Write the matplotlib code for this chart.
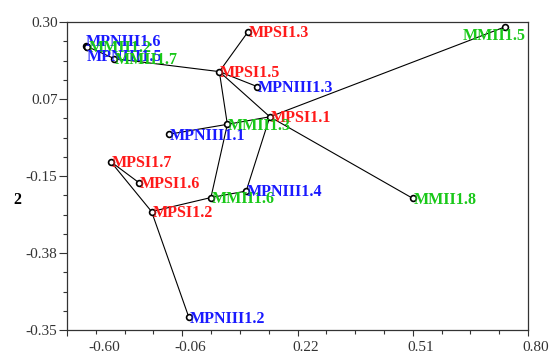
import numpy as np
import matplotlib
matplotlib.use("Agg")
import matplotlib.pyplot as plt
from matplotlib.transforms import ScaledTranslation

# ---------------------------------------------------------------------------
# Datos
# ---------------------------------------------------------------------------
nombres = [
    "MPNIII1.6", "MMII1.2", "MPNIII1.5", "MMII1.7", "MPSI1.3", "MPSI1.5",
    "MPNIII1.3", "MPSI1.1", "MMII1.3", "MPNIII1.1", "MMII1.5", "MMII1.8",
    "MPSI1.7", "MPSI1.6", "MPSI1.2", "MMII1.6", "MPNIII1.4", "MPNIII1.2",
]
dim1 = [-0.303, -0.300, -0.301, -0.232, 0.102, 0.030,
        0.125, 0.156, 0.050, -0.096, 0.743, 0.512,
        -0.241, -0.170, -0.139, 0.009, 0.097, -0.046]
dim2 = [0.230, 0.228, 0.227, 0.193, 0.272, 0.155,
        0.111, 0.023, 0.001, -0.028, 0.286, -0.215,
        -0.108, -0.170, -0.254, -0.213, -0.194, -0.563]

aristas = [
    ("MPNIII1.6", "MMII1.7"), ("MMII1.7", "MPSI1.5"), ("MPSI1.3", "MPSI1.5"),
    ("MPSI1.5", "MPNIII1.3"), ("MPSI1.5", "MPSI1.1"), ("MPSI1.5", "MMII1.3"),
    ("MPSI1.1", "MMII1.5"), ("MPSI1.1", "MMII1.8"), ("MMII1.3", "MPSI1.1"),
    ("MPNIII1.1", "MMII1.3"), ("MMII1.6", "MMII1.3"), ("MPNIII1.4", "MPSI1.1"),
    ("MMII1.6", "MPNIII1.4"), ("MPSI1.2", "MMII1.6"), ("MPSI1.2", "MPSI1.7"),
    ("MPSI1.7", "MPSI1.6"), ("MPSI1.2", "MPNIII1.2"),
]

xticks_lab = ["-0.60", "-0.06", "0.22", "0.51", "0.80"]
yticks_lab = ["-0.35", "-0.38", "-0.15", "0.07", "0.30"]

# ---------------------------------------------------------------------------
# Estilo
# ---------------------------------------------------------------------------
colores = {"MPNIII": "#1a1aff", "MPSI": "#ff1a1a", "MMII": "#19c819"}
# desplazamientos de etiqueta (pt) para puntos solapados
desplaz = {
    "MPNIII1.6": (0, 3.0, "left"),
    "MMII1.2": (1.5, -1.0, "left"),
    "MPNIII1.5": (0, -7.0, "left"),
    "MMII1.5": (15, -6.5, "right"),
}

plt.rcParams["font.family"] = ["Liberation Serif", "DejaVu Serif"]

fig = plt.figure(figsize=(5.59, 3.54), dpi=100)
ax = fig.add_axes([67 / 559, 1 - 330 / 354, 461 / 559, 308 / 354])

xmin, xmax = -0.35, 0.80
ymin, ymax = -0.60, 0.30
ax.set_xlim(xmin, xmax)
ax.set_ylim(ymin, ymax)

pos = {n: (x, y) for n, x, y in zip(nombres, dim1, dim2)}
for a, b in aristas:
    ax.plot([pos[a][0], pos[b][0]], [pos[a][1], pos[b][1]],
            color="black", lw=0.8, zorder=2)

ax.plot(dim1, dim2, "o", ms=4.2, mfc="white", mec="black", mew=1.2,
        ls="none", zorder=3)

for n, x, y in zip(nombres, dim1, dim2):
    grupo = n.rstrip("0123456789.")
    dx, dy, ha = desplaz.get(n, (0.5, -1.0, "left"))
    ax.annotate(n, (x, y), xytext=(dx, dy), textcoords="offset points",
                ha=ha, va="center", fontsize=11.5, fontweight="bold",
                color=colores[grupo], zorder=4)

# ejes
ax.set_xticks(np.linspace(xmin, xmax, 5))
ax.set_xticklabels(xticks_lab)
ax.set_xticks(np.linspace(xmin, xmax, 17), minor=True)
ax.set_yticks(np.linspace(ymin, ymax, 5))
ax.set_yticklabels(yticks_lab)
ax.set_yticks(np.linspace(ymin, ymax, 17), minor=True)

ax.tick_params(axis="x", which="major", length=4.5, width=0.8, pad=3.5,
               labelsize=11, colors="#333333")
ax.tick_params(axis="x", which="minor", length=3, width=0.8, colors="#333333")
ax.tick_params(axis="y", which="major", length=5.8, width=0.8, pad=1,
               labelsize=11, colors="#333333")
ax.tick_params(axis="y", which="minor", length=3, width=0.8, colors="#333333")

for s in ax.spines.values():
    s.set_color("#333333")
    s.set_linewidth(0.9)

for i, lab in enumerate(ax.get_xticklabels()):
    dx = 37 if i == 0 else 8
    lab.set_transform(lab.get_transform() + ScaledTranslation(dx / 100, 0, fig.dpi_scale_trans))

fig.text(17 / 559, 1 - 200.5 / 354, "2", fontsize=11.5, fontweight="bold",
         ha="center", va="center")

fig.savefig("out.png", dpi=100)
